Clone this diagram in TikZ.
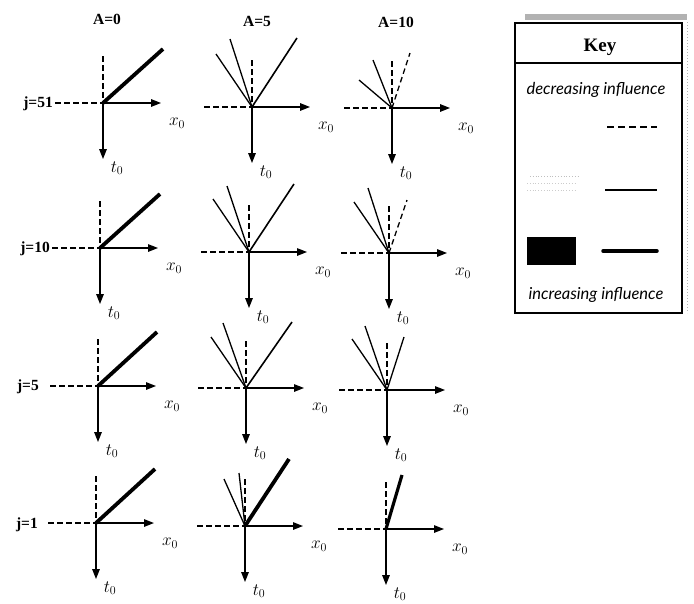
\documentclass[tikz,border=0pt]{standalone}
\usepackage{fontspec}
\setmainfont{Liberation Serif}
\newfontfamily\keyfont{Lato}
\usetikzlibrary{arrows.meta}
\newcommand{\pnl}[3]{%
  \coordinate (#1) at (#2,#3);
  \path (#1) +(-48,0) coordinate (#1-l) +(58,0) coordinate (#1-x)
             +(0,56) coordinate (#1-t) +(0,-47) coordinate (#1-u);
  \draw[dsh] (#1-l) -- (#1);
  \draw[dsh] (#1-u) -- (#1);
  \draw[ax] (#1) -- (#1-x);
  \draw[ax] (#1) -- (#1-t);
  \fill (#1) circle (1.6);
  \path (#1) +(74,20) node[lab] (#1-xl) {$x_0$}
             +(14,65) node[lab] (#1-tl) {$t_0$};
}
\newcommand{\ray}[4]{%
  \path (#1) +(#2) coordinate (#1-#3);
  \draw[#4] (#1) -- (#1-#3);
}
\begin{document}
\begin{tikzpicture}[x=1pt,y=-1pt,
  ax/.style={line width=1.4pt, -{Triangle[length=10pt,width=7.5pt]}},
  dsh/.style={line width=1.3pt, dash pattern=on 5.5pt off 3.5pt},
  thn/.style={line width=1.3pt},
  med/.style={line width=1.6pt},
  thk/.style={line width=3.8pt},
  lab/.style={font=\fontsize{18}{20}\selectfont, inner sep=0pt},
  hdr/.style={font=\bfseries\fontsize{15.5}{17}\selectfont, inner sep=0pt},
  keytxt/.style={font=\keyfont\itshape\fontsize{16.5}{18}\selectfont, inner sep=0pt},
]
\useasboundingbox (0,0) rectangle (694,603);

% column headers
\node[hdr] (hA0) at (107,19) {A=0};
\node[hdr] (hA5) at (257,21) {A=5};
\node[hdr] (hA10) at (396,22) {A=10};

% row labels
\node[hdr, anchor=east] (j51) at (53,104) {j=51};
\node[hdr, anchor=east] (j10) at (50,249) {j=10};
\node[hdr, anchor=east] (j5) at (39,387) {j=5};
\node[hdr, anchor=east] (j1) at (38,525) {j=1};

% panels
\pnl{p11}{103}{103}
\pnl{p12}{252}{107}
\pnl{p13}{392}{108}
\pnl{p21}{100}{248}
\pnl{p22}{249}{252}
\pnl{p23}{389}{253}
\pnl{p31}{98}{386}
\pnl{p32}{246}{388}
\pnl{p33}{387}{390}
\pnl{p41}{96}{523}
\pnl{p42}{245}{526}
\pnl{p43}{386}{529}

% column A=0
\ray{p11}{60,-54}{r}{thk}
\ray{p21}{60,-54}{r}{thk}
\ray{p31}{59,-54}{r}{thk}
\ray{p41}{59,-54}{r}{thk}

% column A=5
\ray{p12}{-36,-53}{a}{thn}
\ray{p12}{-22,-68}{b}{thn}
\ray{p12}{45,-69}{r}{med}
\ray{p22}{-36,-53}{a}{thn}
\ray{p22}{-22,-66}{b}{thn}
\ray{p22}{45,-68}{r}{med}
\ray{p32}{-35,-51}{a}{thn}
\ray{p32}{-23,-65}{b}{thn}
\ray{p32}{46,-66}{r}{med}
\ray{p42}{-21,-47}{a}{thn}
\ray{p42}{-6,-53}{b}{thn}
\ray{p42}{44,-67}{r}{thk}

% column A=10
\ray{p13}{-33,-28}{a}{thn}
\ray{p13}{-19,-48}{b}{thn}
\ray{p13}{18,-55}{r}{dsh}
\ray{p23}{-35,-51}{a}{thn}
\ray{p23}{-21,-65}{b}{thn}
\ray{p23}{18,-53}{r}{dsh}
\ray{p33}{-35,-51}{a}{thn}
\ray{p33}{-22,-64}{b}{thn}
\ray{p33}{17,-53}{r}{thn}
\ray{p43}{16,-54}{r}{line width=3.2pt}

% key
\fill[gray!60] (525,14) rectangle (687,20);
\draw[gray!60, line width=1pt, dotted] (687,22) -- (687,313);
\draw[line width=1.4pt, fill=white] (515,23) rectangle (682,313);
\draw[line width=1.2pt] (515,63) -- (682,63);
\node[font=\bfseries\fontsize{19}{21}\selectfont, inner sep=0pt] (keyt) at (600,47) {Key};
\node[keytxt] (dec) at (596,90) {decreasing influence};
\node[keytxt] (inc) at (596,295) {increasing influence};
\coordinate (k1a) at (607,127); \coordinate (k1b) at (657,127);
\draw[line width=1.5pt, dash pattern=on 7pt off 4pt] (k1a) -- (k1b);
\draw[gray!50, line width=0.8pt, dotted] (530,176) -- (578,176);
\draw[gray!40, line width=0.8pt, dotted] (527,183) -- (575,183);
\draw[gray!40, line width=0.8pt, dotted] (527,190) -- (575,190);
\coordinate (k2a) at (605,190); \coordinate (k2b) at (657,190);
\draw[line width=1.6pt] (k2a) -- (k2b);
\fill (527,237) rectangle (576,265);
\coordinate (k3a) at (603,251); \coordinate (k3b) at (657,251);
\draw[line width=3.5pt, line cap=round] (k3a) -- (k3b);
\end{tikzpicture}
\end{document}
